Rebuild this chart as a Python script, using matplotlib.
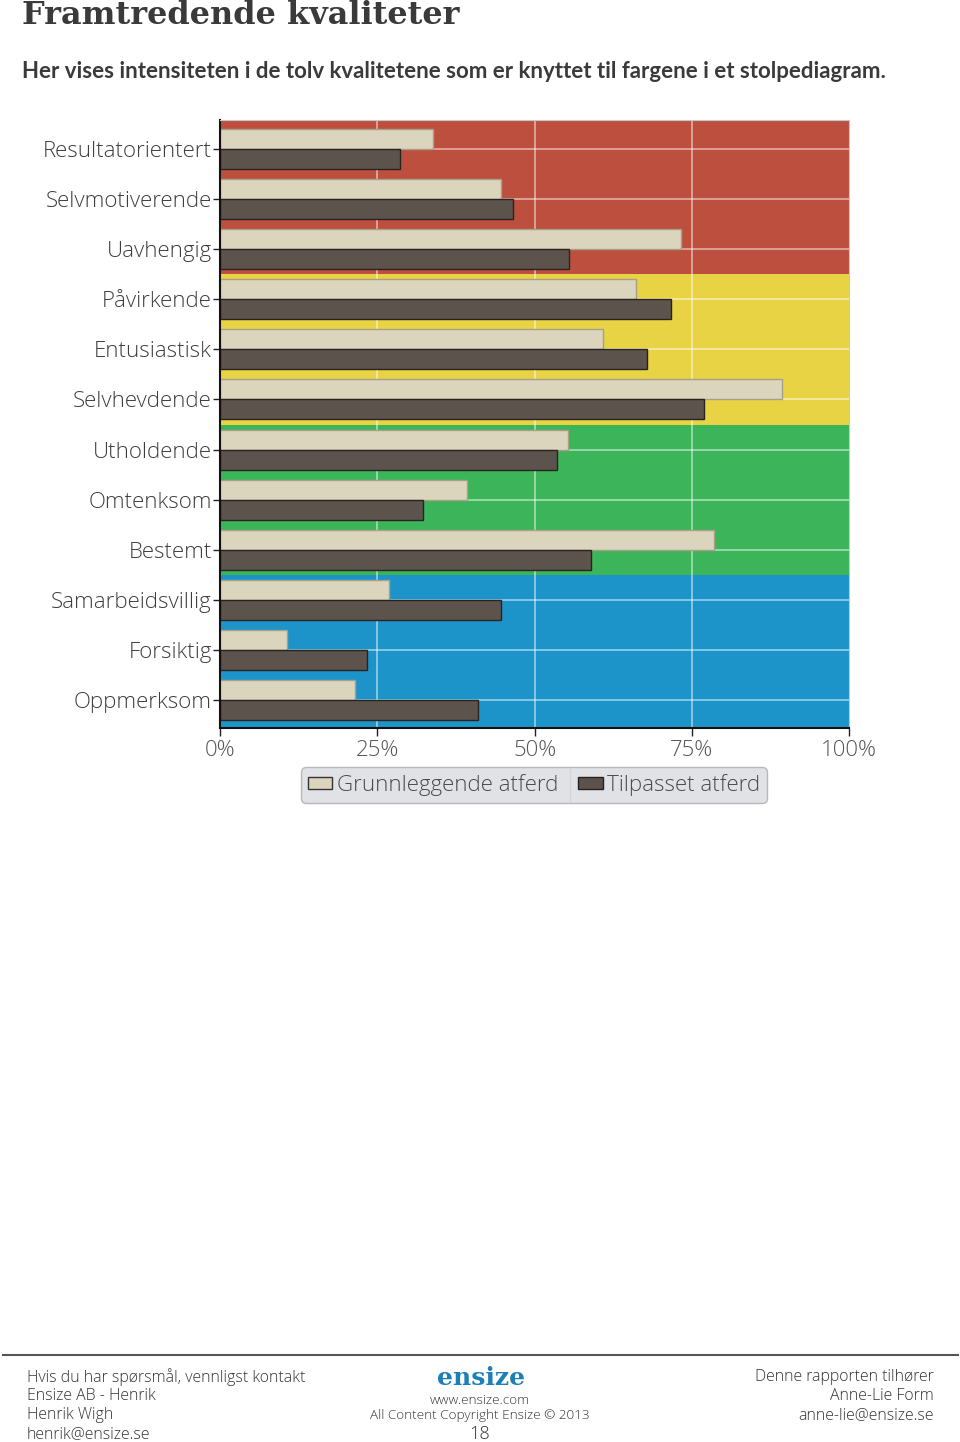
import numpy as np
import matplotlib.pyplot as plt
from matplotlib.patches import Patch

# values (percent)
kategorier = ['Resultatorientert', 'Selvmotiverende', 'Uavhengig', 'Påvirkende',
              'Entusiastisk', 'Selvhevdende', 'Utholdende', 'Omtenksom',
              'Bestemt', 'Samarbeidsvillig', 'Forsiktig', 'Oppmerksom']
grunnleggende = [33.9, 44.6, 73.2, 66.1, 60.8, 89.3, 55.3, 39.3, 78.5, 26.8, 10.7, 21.5]
tilpasset = [28.6, 46.5, 55.4, 71.6, 67.9, 76.9, 53.6, 32.2, 59.0, 44.7, 23.3, 41.0]
xticks = [0, 25, 50, 75, 100]
xtick_labels = ['0%', '25%', '50%', '75%', '100%']
band_farger = ['#bd4f3f', '#e8d345', '#3cb55a', '#1c94c9']

lys = '#dbd5be'
mork = '#5c534d'
tekst = '#3d3d3d'
fnt = 'Open Sans'

fig = plt.figure(figsize=(9.6, 14.42), dpi=100)
ax = fig.add_axes([220/960, 1-728/1442, 629.3/960, 608/1442])

n = len(kategorier)
y = np.arange(n)
ylo, yhi = -0.58, n - 1 + 0.56
# colour bands, three categories each
edges = [ylo, 2.5, 5.5, 8.5, yhi]
for i, c in enumerate(band_farger):
    ax.axhspan(edges[i], edges[i+1], color=c, zorder=0, lw=0)

for v in xticks[1:-1]:
    ax.axvline(v, color='white', alpha=0.55, lw=1.2, zorder=1)
for yy in y:
    ax.axhline(yy, color='white', alpha=0.55, lw=1.2, zorder=1)

h = 0.4
ax.barh(y, grunnleggende, height=-h, align='edge', color=lys,
        edgecolor='#a89f86', lw=1, zorder=2)
ax.barh(y, tilpasset, height=h, align='edge', color=mork,
        edgecolor='#2a2420', lw=1, zorder=2)

ax.set_xlim(0, 100)
ax.set_ylim(yhi, ylo)
ax.set_yticks(y)
ax.set_yticklabels(kategorier, fontsize=16, color=tekst, family=fnt, fontweight='light')
ax.set_xticks(xticks)
ax.set_xticklabels(xtick_labels, fontsize=16, color='#555555', family=fnt, fontweight='light')
ax.tick_params(axis='y', length=5, width=1, color='#222222', pad=1)
ax.tick_params(axis='x', length=6, width=1, color='#222222', pad=3)
for s in ['top', 'right']:
    ax.spines[s].set_color('#c8c8c8')
    ax.spines[s].set_linewidth(0.8)
for s in ['left', 'bottom']:
    ax.spines[s].set_color('#111111')
    ax.spines[s].set_linewidth(1.5)

handles = [Patch(facecolor=lys, edgecolor='#333333', label='Grunnleggende atferd'),
           Patch(facecolor=mork, edgecolor='#222222', label='Tilpasset atferd')]
leg = fig.legend(handles=handles, loc='center', bbox_to_anchor=(534/960, 1-785/1442),
                 ncol=2, frameon=True, fancybox=True, facecolor='#d9dbdf',
                 edgecolor='#aaaaaa', handlelength=1.1, handleheight=0.5,
                 handletextpad=0.2, columnspacing=0.9, borderpad=0.3,
                 prop={'family': fnt, 'size': 16, 'weight': 'light'})
for t in leg.get_texts():
    t.set_color('#4a4a4a')
# thin divider between the two legend entries
fig.add_artist(plt.Line2D([570/960]*2, [1-769/1442, 1-801/1442], color='#b8babd', lw=1))

# heading
fig.text(22/960, 1-16/1442, 'Framtredende kvaliteter', fontsize=23, fontweight='bold',
         family='DejaVu Serif', color='#3a3a3a', va='center', ha='left')
fig.text(22/960, 1-72/1442,
         'Her vises intensiteten i de tolv kvalitetene som er knyttet til fargene i et stolpediagram.',
         fontsize=16, fontweight='bold', family='Lato', color='#3a3a3a', va='center', ha='left')

# footer
fig.add_artist(plt.Line2D([3/960, 958/960], [1-1355/1442]*2, color='#555555', lw=1.5))
venstre = ['Hvis du har spørsmål, vennligst kontakt', 'Ensize AB - Henrik',
           'Henrik Wigh', 'henrik@ensize.se']
hoyre = ['Denne rapporten tilhører', 'Anne-Lie Form', 'anne-lie@ensize.se']
for i, s in enumerate(venstre):
    fig.text(27/960, 1-(1377+19*i)/1442, s, fontsize=11.4, family=fnt, color='#333333',
             fontweight='light', va='center', ha='left')
for i, s in enumerate(hoyre):
    fig.text(934/960, 1-(1377+19*i)/1442, s, fontsize=11.4, family=fnt, color='#333333',
             fontweight='light', va='center', ha='right')
fig.text(481/960, 1-1378/1442, 'ensize', fontsize=18, fontweight='bold',
         family='DejaVu Serif', color='#1d7fb8', va='center', ha='center')
fig.text(480/960, 1-1400/1442, 'www.ensize.com', fontsize=9.7, family=fnt,
         fontweight='light', color='#333333', va='center', ha='center')
fig.text(480/960, 1-1416/1442, 'All Content Copyright Ensize © 2013', fontsize=9.7,
         family=fnt, fontweight='light', color='#333333', va='center', ha='center')
fig.text(480/960, 1-1434/1442, '18', fontsize=13, family=fnt, fontweight='light',
         color='#333333', va='center', ha='center')

fig.savefig('out.png', dpi=100)
